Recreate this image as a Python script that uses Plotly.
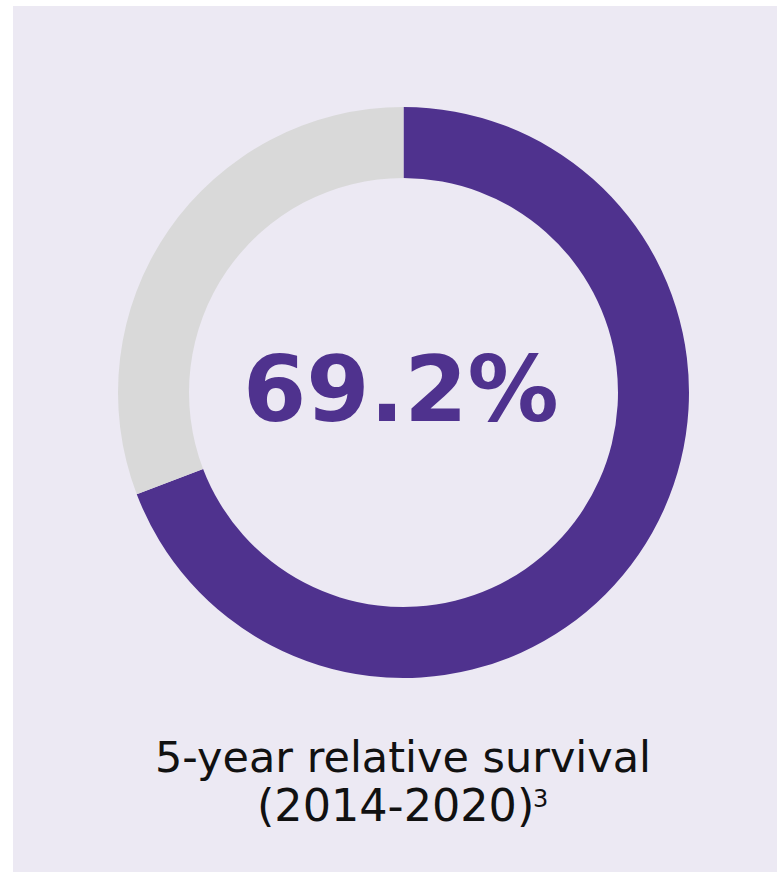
import plotly.graph_objects as go

# Survival share and its complement
labels = ["Survived 5 years", "Other"]
values = [69.2, 30.8]
colors = ["#4F328E", "#D9D9D9"]

headline = "69.2%"
caption_line1 = "5-year relative survival"
caption_line2 = "(2014-2020)"
footnote_mark = "3"

W, H = 777, 872
cx, cy, r_out, r_in = 403.5, 392.5, 285.5, 214.5

fig = go.Figure(
    go.Pie(
        labels=labels,
        values=values,
        marker=dict(colors=colors, line=dict(width=0)),
        hole=r_in / r_out,
        sort=False,
        direction="clockwise",
        rotation=0,
        textinfo="none",
        hoverinfo="label+value",
        showlegend=False,
        domain=dict(
            x=[(cx - r_out) / W, (cx + r_out) / W],
            y=[1 - (cy + r_out) / H, 1 - (cy - r_out) / H],
        ),
    )
)

# Lavender panel with a thin white strip at the left and top
fig.add_shape(
    type="rect", xref="paper", yref="paper",
    x0=13 / W, x1=1, y0=0, y1=1 - 6 / H,
    fillcolor="#ECE9F3", line=dict(width=0), layer="below",
)

fig.add_annotation(
    text=f"<b>{headline}</b>", x=401 / W, y=1 - 389 / H,
    xref="paper", yref="paper", showarrow=False,
    font=dict(family="DejaVu Sans", size=91, color="#4F328E"),
    xanchor="center", yanchor="middle",
)
fig.add_annotation(
    text=caption_line1, x=403 / W, y=1 - 757 / H,
    xref="paper", yref="paper", showarrow=False,
    font=dict(family="DejaVu Sans", size=43, color="#111111"),
    xanchor="center", yanchor="middle",
)
fig.add_annotation(
    text=caption_line2, x=536 / W, y=1 - 805 / H,
    xref="paper", yref="paper", showarrow=False,
    font=dict(family="DejaVu Sans", size=44.5, color="#111111"),
    xanchor="right", yanchor="middle",
)
# Footnote reference, set as a raised small figure after the years
fig.add_annotation(
    text=footnote_mark, x=531 / W, y=1 - 799 / H,
    xref="paper", yref="paper", showarrow=False,
    font=dict(family="DejaVu Sans", size=24, color="#111111"),
    xanchor="left", yanchor="middle",
)

fig.update_layout(
    width=W, height=H,
    margin=dict(l=0, r=0, t=0, b=0),
    paper_bgcolor="white",
    plot_bgcolor="white",
)

fig.write_html("out.html")
